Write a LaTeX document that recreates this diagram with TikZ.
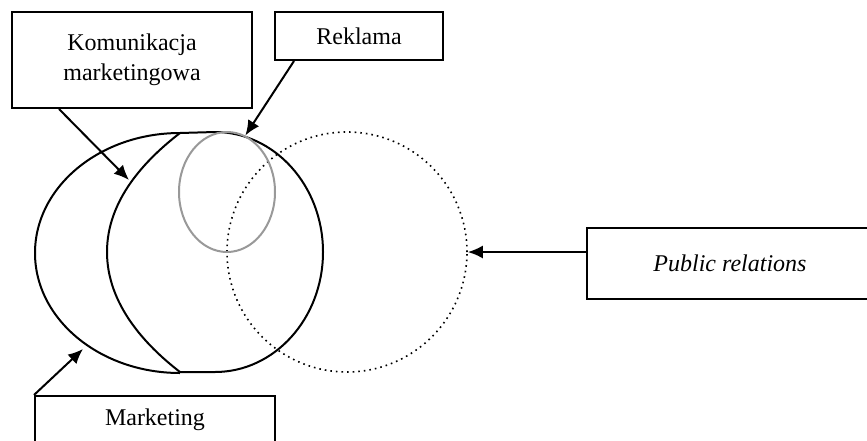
\documentclass[tikz,border=0pt]{standalone}
\usepackage{fontspec}
\setmainfont{Liberation Serif}
\usetikzlibrary{arrows.meta, shapes.geometric}

\begin{document}
\begin{tikzpicture}[x=0.5pt, y=-0.5pt, >={Latex[length=7.5pt,width=6.5pt]},
        lbl/.style={draw, line width=1pt, rectangle, align=center, inner sep=0,
            font=\fontsize{12}{15}\selectfont},
        ring/.style={draw, ellipse, line width=1pt, inner sep=0},
        adv/.style={ring, draw=black!40},
        prc/.style={draw, circle, dotted, line width=0.8pt, inner sep=0},
        ptr/.style={->, line width=1pt}]
    \useasboundingbox (0,0) rectangle (867,440);
    \clip (0,0) rectangle (867,440);
    % label boxes
    \node(kom)[lbl, minimum width=120pt, minimum height=48pt] at (132,60)
        {Komunikacja\\marketingowa};
    \node(rek)[lbl, minimum width=84pt, minimum height=24pt] at (359,36) {Reklama};
    \node(prb)[lbl, minimum width=143pt, minimum height=35.5pt] at (730,263.5)
        {\textit{Public relations}};
    \node(mkt)[lbl, minimum width=120pt, minimum height=24pt] at (155,420) {Marketing};
    % the rings
    \node(pr)[prc, minimum size=120pt] at (347,252) {};
    \draw[line width=1pt] (180,133) -- (215,132)
        arc[start angle=90, end angle=-90, x radius=54pt, y radius=60pt] -- (180,372)
        .. controls (145,345) and (107,304) .. (107,252)
        .. controls (107,200) and (145,160) .. cycle;
    \draw[line width=1pt] (180,133)
        arc[start angle=90, end angle=270, x radius=72.5pt, y radius=60pt];
    \node(ad)[adv, minimum width=48pt, minimum height=60pt] at (227,192) {};
    \coordinate(kt) at (129,180);
    \coordinate(mt) at (83,349);
    % pointers
    \draw[ptr] ([xshift=24pt]kom.south west) -- (kt);
    \draw[ptr] ([xshift=10pt]rek.south west) -- (ad.72);
    \draw[ptr] (prb.west |- pr.east) -- (pr.east);
    \draw[ptr] (mkt.north west) -- (mt);
\end{tikzpicture}
\end{document}
